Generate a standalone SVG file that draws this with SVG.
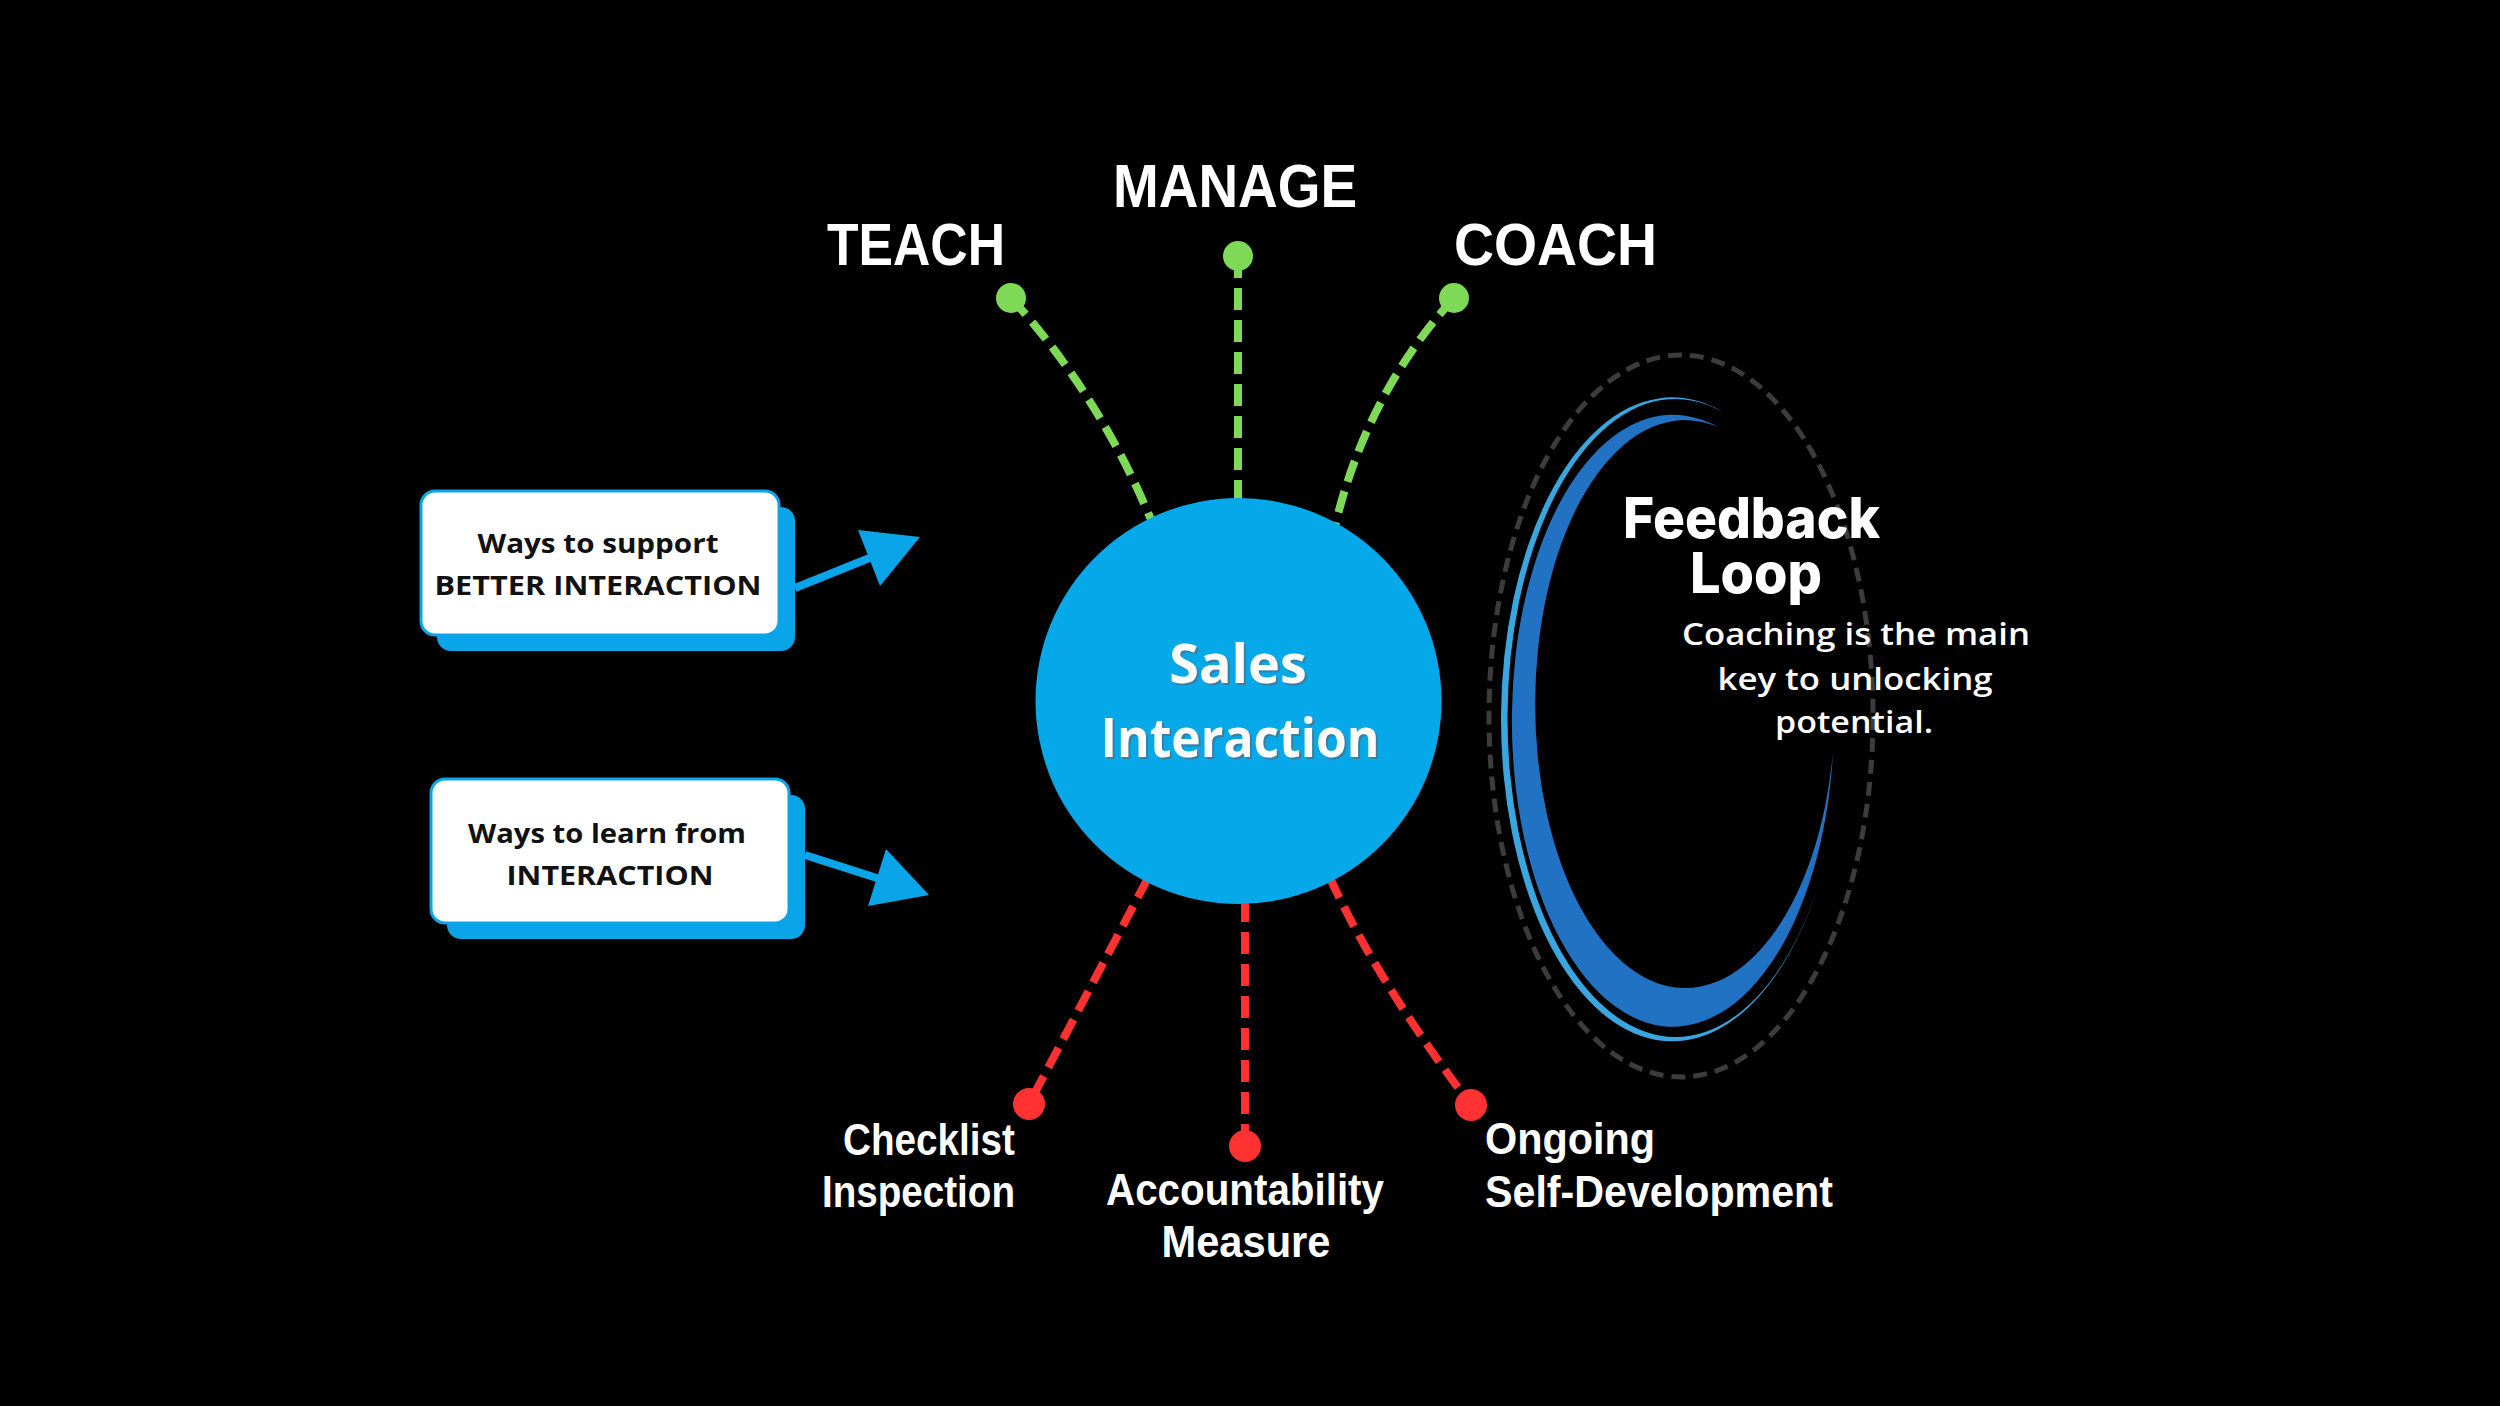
<svg xmlns="http://www.w3.org/2000/svg" width="2500" height="1406" viewBox="0 0 2500 1406">
<defs>
<style>
.big{font-family:"Liberation Sans",Arial,sans-serif;font-weight:700;fill:#fff}
.lbl{font-family:"Liberation Sans",Arial,sans-serif;font-weight:700;fill:#fff;font-size:44px}
.box{fill:#fff;stroke:#0AA5E8;stroke-width:3}
.shadow{fill:#0AA5E8}
.btxt{font-family:"Open Sans","Noto Sans",sans-serif;font-weight:700;font-size:27px;fill:#111;text-anchor:middle}
.g{stroke:#7ED957;stroke-width:8;stroke-dasharray:22 10;fill:none}
.r{stroke:#FF3131;stroke-width:8;stroke-dasharray:22 10;fill:none}
.gd{fill:#7ED957}
.rd{fill:#FF3131}
.arr{stroke:#0AA5E8;stroke-width:8;fill:none}
.ah{fill:#0AA5E8}
.fb{font-family:Inter,"Liberation Sans",sans-serif;font-weight:800;font-size:56px;fill:#fff}
.sub{font-family:"Open Sans","Noto Sans",sans-serif;font-weight:600;font-size:31px;fill:#fff;text-anchor:middle}
</style>
</defs>
<rect x="0" y="0" width="2500" height="1406" fill="#000"/>

<g id="connectors">
  <path class="g" d="M1011,298 Q1099,394 1152,522"/>
  <path class="g" d="M1238,256 L1238,500"/>
  <path class="g" d="M1454,298 Q1367,393 1335,526"/>
  <path class="r" d="M1148,878 L1029,1104"/>
  <path class="r" d="M1245,900 L1245,1146"/>
  <path class="r" d="M1330,878 Q1377,981 1471,1105"/>
  <line class="arr" x1="795" y1="588" x2="872" y2="557"/>
  <polygon class="ah" points="920,537 858,530 880,586"/>
  <line class="arr" x1="805" y1="855" x2="880" y2="879"/>
  <polygon class="ah" points="929,895 886,849 868,906"/>
</g>

<g id="sales-interaction">
  <circle cx="1238.5" cy="701" r="203" fill="#05A8E8"/>
  <g font-family="'Open Sans','Noto Sans',sans-serif" font-weight="700" font-size="54" text-anchor="middle">
    <text x="1240" y="685" fill="#4d6f86" opacity="0.7">Sales</text>
    <text x="1242" y="759" fill="#4d6f86" opacity="0.7" textLength="279" lengthAdjust="spacingAndGlyphs">Interaction</text>
    <text x="1238" y="683" fill="#fff">Sales</text>
    <text x="1240" y="757" fill="#fff" textLength="279" lengthAdjust="spacingAndGlyphs">Interaction</text>
  </g>
</g>

<g id="teach">
  <circle class="gd" cx="1011" cy="298" r="15"/>
  <text class="big" x="827" y="265" font-size="60" textLength="178" lengthAdjust="spacingAndGlyphs">TEACH</text>
</g>
<g id="manage">
  <circle class="gd" cx="1238" cy="256" r="15"/>
  <text class="big" x="1113" y="207" font-size="61" textLength="244" lengthAdjust="spacingAndGlyphs">MANAGE</text>
</g>
<g id="coach">
  <circle class="gd" cx="1454" cy="298" r="15"/>
  <text class="big" x="1454" y="265" font-size="60" textLength="203" lengthAdjust="spacingAndGlyphs">COACH</text>
</g>

<g id="checklist-inspection">
  <circle class="rd" cx="1029" cy="1104" r="16"/>
  <text class="lbl" x="1015" y="1155" text-anchor="end" textLength="172" lengthAdjust="spacingAndGlyphs">Checklist</text>
  <text class="lbl" x="1015" y="1207" text-anchor="end" textLength="193" lengthAdjust="spacingAndGlyphs">Inspection</text>
</g>
<g id="accountability-measure">
  <circle class="rd" cx="1245" cy="1146" r="16"/>
  <text class="lbl" x="1245" y="1205" text-anchor="middle" textLength="278" lengthAdjust="spacingAndGlyphs">Accountability</text>
  <text class="lbl" x="1246" y="1257" text-anchor="middle" textLength="169" lengthAdjust="spacingAndGlyphs">Measure</text>
</g>
<g id="ongoing-self-development">
  <circle class="rd" cx="1471" cy="1105" r="16"/>
  <text class="lbl" x="1485" y="1154" textLength="170" lengthAdjust="spacingAndGlyphs">Ongoing</text>
  <text class="lbl" x="1485" y="1207" textLength="348" lengthAdjust="spacingAndGlyphs">Self-Development</text>
</g>

<g id="better-interaction-box">
  <rect class="shadow" x="437" y="507" width="358" height="144" rx="14"/>
  <rect class="box" x="421" y="491" width="358" height="144" rx="14"/>
  <text class="btxt" x="598" y="553" textLength="241" lengthAdjust="spacingAndGlyphs">Ways to support</text>
  <text class="btxt" x="598" y="595" textLength="327" lengthAdjust="spacingAndGlyphs">BETTER INTERACTION</text>
</g>
<g id="learn-interaction-box">
  <rect class="shadow" x="447" y="795" width="358" height="144" rx="14"/>
  <rect class="box" x="431" y="779" width="358" height="144" rx="14"/>
  <text class="btxt" x="607" y="843" textLength="278" lengthAdjust="spacingAndGlyphs">Ways to learn from</text>
  <text class="btxt" x="610" y="885" textLength="207" lengthAdjust="spacingAndGlyphs">INTERACTION</text>
</g>

<g id="feedback-loop">
  <ellipse cx="1681" cy="716" rx="192" ry="361" fill="none" stroke="#3c3c3c" stroke-width="5" stroke-dasharray="14 8"/>
  <path fill="#3AA6E0" d="M1723,412 A171,322 0 1 0 1818,887 A168,319 0 1 1 1723,412 Z"/>
  <path fill="#2272C3" d="M1718,427 A161,306 0 1 0 1833,752 A150,284 0 1 1 1718,427 Z"/>
  <text class="fb" x="1623" y="538" textLength="257" lengthAdjust="spacingAndGlyphs">Feedback</text>
  <text class="fb" x="1690" y="593" textLength="132" lengthAdjust="spacingAndGlyphs">Loop</text>
  <text class="sub" x="1856" y="645" textLength="348" lengthAdjust="spacingAndGlyphs">Coaching is the main</text>
  <text class="sub" x="1855" y="690" textLength="275" lengthAdjust="spacingAndGlyphs">key to unlocking</text>
  <text class="sub" x="1854" y="733" textLength="158" lengthAdjust="spacingAndGlyphs">potential.</text>
</g>
</svg>
